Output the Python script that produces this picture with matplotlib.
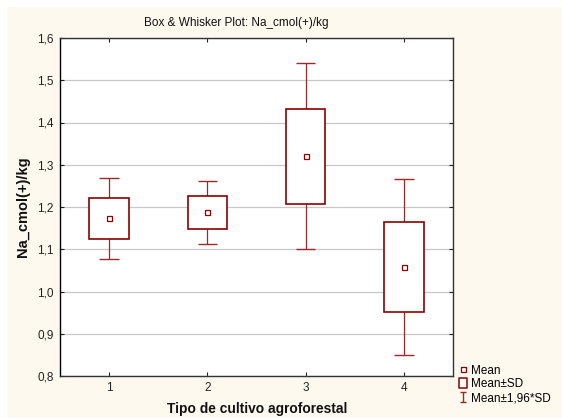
import matplotlib
matplotlib.use("Agg")
import matplotlib.pyplot as plt
from matplotlib.patches import Rectangle
from matplotlib.lines import Line2D
from matplotlib.path import Path
import numpy as np

plt.rcParams['font.family'] = ['Liberation Sans', 'DejaVu Sans']

# Data
groups = [1, 2, 3, 4]
tick_labels = ["1", "2", "3", "4"]
means = [1.173, 1.187, 1.320, 1.057]
sd_low = [1.125, 1.149, 1.208, 0.952]
sd_high = [1.221, 1.225, 1.432, 1.164]
ci_low = [1.077, 1.112, 1.101, 0.850]
ci_high = [1.269, 1.261, 1.540, 1.266]

DARK = '#8B0000'
WHISK = '#9A2A2A'
CREAM = '#FDF9EE'

W, H = 562, 418
fig = plt.figure(figsize=(W / 100, H / 100), dpi=100)
fig.patch.set_facecolor('white')
fig.patches.append(Rectangle((7 / W, 0), 1, 1 - 7 / H, transform=fig.transFigure,
                             facecolor=CREAM, edgecolor='none', zorder=-10))

ax = fig.add_axes([60 / W, (H - 376) / H, (453 - 60) / W, (376 - 38) / H])
ax.set_facecolor('white')
ax.set_xlim(0.5, 4.5)
ax.set_ylim(0.8, 1.6)

x = np.array(groups, dtype=float)
lo = np.array(sd_low)
hi = np.array(sd_high)
# whiskers
ax.vlines(x, ci_low, lo, color=WHISK, lw=0.9, zorder=3)
ax.vlines(x, hi, ci_high, color=WHISK, lw=0.9, zorder=3)
ax.hlines(ci_low, x - 0.1, x + 0.1, color=WHISK, lw=1.0, zorder=3)
ax.hlines(ci_high, x - 0.1, x + 0.1, color=WHISK, lw=1.0, zorder=3)
# boxes
ax.bar(x, hi - lo, bottom=lo, width=0.40, facecolor='white', edgecolor=DARK,
       linewidth=1.2, zorder=4)
# means
ax.plot(x, means, linestyle='none', marker='s', markersize=3.6,
        markerfacecolor='white', markeredgecolor=DARK, markeredgewidth=0.9, zorder=5)

yt = np.arange(0.8, 1.61, 0.1)
ax.set_yticks(yt)
ax.set_yticklabels([f"{v:.1f}".replace('.', ',') for v in yt])
ax.set_xticks(groups)
ax.set_xticklabels(tick_labels)
ax.grid(axis='y', color='#C8C8C8', lw=0.9, zorder=0)
ax.set_axisbelow(True)
ax.tick_params(axis='both', direction='in', length=3, width=0.8, labelsize=8.5,
               colors='#222222', top=True, right=True, pad=4.5)
for side, sp in ax.spines.items():
    sp.set_color('#333333')
    sp.set_linewidth(1.0)
ax.spines['left'].set_color('black')

fig.text(236 / W, 1 - 23 / H, "Box & Whisker Plot: Na_cmol(+)/kg", ha='center',
         va='center', fontsize=8.5, color='#111111')
fig.text(23 / W, 1 - 207 / H, "Na_cmol(+)/kg", rotation=90, ha='center',
         va='center', fontsize=10.5, fontweight='bold', color='#111111')
fig.text(257 / W, 1 - 409 / H, "Tipo de cultivo agroforestal", ha='center',
         va='center', fontsize=9.9, fontweight='bold', color='#111111')

ibar = Path([(-0.33, 0.5), (0.33, 0.5), (0, 0.5), (0, -0.5), (-0.33, -0.5), (0.33, -0.5)],
            [Path.MOVETO, Path.LINETO, Path.MOVETO, Path.LINETO, Path.MOVETO, Path.LINETO])
rect = Path([(-0.39, -0.5), (0.39, -0.5), (0.39, 0.5), (-0.39, 0.5), (-0.39, -0.5)],
            [Path.MOVETO, Path.LINETO, Path.LINETO, Path.LINETO, Path.CLOSEPOLY])
handles = [
    Line2D([], [], linestyle='none', marker='s', markersize=3.6,
           markerfacecolor='white', markeredgecolor=DARK, markeredgewidth=0.9),
    Line2D([], [], linestyle='none', marker=rect, markersize=6.6,
           markerfacecolor='white', markeredgecolor=DARK, markeredgewidth=1.1),
    Line2D([], [], linestyle='none', marker=ibar, markersize=7.4,
           markerfacecolor='none', markeredgecolor=WHISK, markeredgewidth=1.0),
]
labels = ["Mean", "Mean\u00b1SD", "Mean\u00b11,96*SD"]
fig.legend(handles, labels, loc='upper left', bbox_to_anchor=(458.3 / W, 1 - 364.5 / H),
           frameon=False, fontsize=8.5, handlelength=0.8, handletextpad=0.28,
           borderpad=0, borderaxespad=0, labelspacing=0.16)

fig.savefig("out.png", dpi=100, facecolor=fig.get_facecolor())
